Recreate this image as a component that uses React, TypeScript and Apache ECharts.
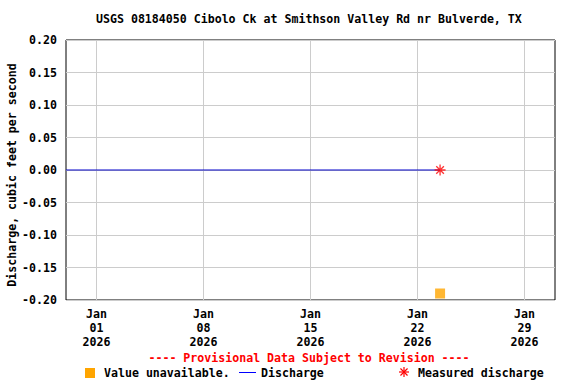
import React, { useEffect, useRef } from "react";
import * as echarts from "echarts";

const title = "USGS 08184050 Cibolo Ck at Smithson Valley Rd nr Bulverde, TX";
const yAxisName = "Discharge, cubic feet per second";
const tickDates = ["2026-01-01", "2026-01-08", "2026-01-15", "2026-01-22", "2026-01-29"];
const xMinDate = "2025-12-30";
const xMaxDate = "2026-01-31";
const yTicks = [-0.2, -0.15, -0.1, -0.05, 0, 0.05, 0.1, 0.15, 0.2];
const dischargeTimes = ["2025-12-30T00:00", "2026-01-23T11:30"];
const dischargeValues = [0, 0];
const measuredTimes = ["2026-01-23T11:30"];
const measuredValues = [0];
const unavailableTimes = ["2026-01-23T11:30"];
const unavailableValues = [-0.19];
const months = ["Jan", "Feb", "Mar", "Apr", "May", "Jun", "Jul", "Aug", "Sep", "Oct", "Nov", "Dec"];

const toTs = (s: string) => {
  const [d, t] = s.split("T");
  const [y, m, dd] = d.split("-").map(Number);
  const [hh, mm] = (t || "00:00").split(":").map(Number);
  return Date.UTC(y, m - 1, dd, hh, mm);
};

const FONT = "'DejaVu Sans Mono', monospace";
const FS = 11.6;
const starPath =
  "path://M-0.6,-5L0.6,-5L0.6,5L-0.6,5Z M-5,-0.6L5,-0.6L5,0.6L-5,0.6Z M-3.9,-3.05L-3.05,-3.9L3.9,3.05L3.05,3.9Z M3.05,-3.9L3.9,-3.05L-3.05,3.9L-3.9,3.05Z";

export default function App() {
  const ref = useRef<HTMLDivElement>(null);
  useEffect(() => {
    if (!ref.current) return;
    const chart = echarts.init(ref.current, undefined, { renderer: "svg" });
    const tickTs = tickDates.map(toTs);
    const red = "#ff0000";
    chart.setOption({
      animation: false,
      backgroundColor: "#fff",
      textStyle: { fontFamily: FONT, fontWeight: "bold" },
      title: {
        text: title,
        left: 96,
        top: 13,
        padding: 0,
        textStyle: { fontFamily: FONT, fontSize: FS, fontWeight: "bold", color: "#000" },
      },
      grid: {
        left: 66,
        right: 21,
        top: 40,
        bottom: 84,
        containLabel: false,
        outerBoundsMode: "none",
        show: true,
        borderColor: "#000",
        borderWidth: 1,
      },
      xAxis: {
        type: "value",
        min: toTs(xMinDate),
        max: toTs(xMaxDate),
        axisLine: { show: false },
        axisTick: { show: false, customValues: tickTs },
        splitLine: { show: true, lineStyle: { color: "#cccccc", width: 1 } },
        axisLabel: {
          customValues: tickTs,
          margin: 7,
          fontFamily: FONT,
          fontSize: FS,
          fontWeight: "bold",
          color: "#000",
          lineHeight: 14,
          formatter: (v: number) => {
            const d = new Date(v);
            return `${months[d.getUTCMonth()]}\n${String(d.getUTCDate()).padStart(2, "0")}\n${d.getUTCFullYear()}`;
          },
        },
      },
      yAxis: {
        type: "value",
        min: -0.2,
        max: 0.2,
        interval: 0.05,
        axisLine: { show: false },
        axisTick: { show: false },
        splitLine: { show: true, lineStyle: { color: "#cccccc", width: 1 } },
        axisLabel: {
          margin: 9,
          fontFamily: FONT,
          fontSize: FS,
          fontWeight: "bold",
          color: "#000",
          formatter: (v: number) => {
            const r = yTicks.find((t) => Math.abs(t - v) < 1e-9);
            return (r ?? v).toFixed(2);
          },
        },
      },
      series: [
        {
          name: "Discharge",
          type: "line",
          data: dischargeTimes.map((t, i) => [toTs(t), dischargeValues[i]]),
          showSymbol: false,
          lineStyle: { color: "#0000c8", width: 1 },
          z: 3,
        },
        {
          name: "Measured discharge",
          type: "scatter",
          data: measuredTimes.map((t, i) => [toTs(t), measuredValues[i]]),
          symbol: starPath,
          symbolSize: 11,
          itemStyle: { color: red },
          z: 4,
        },
        {
          name: "Value unavailable.",
          type: "scatter",
          data: unavailableTimes.map((t, i) => [toTs(t), unavailableValues[i]]),
          symbol: "rect",
          symbolSize: 10,
          itemStyle: { color: "#ffa500" },
          z: 4,
        },
      ],
      graphic: [
        {
          type: "text",
          x: 12,
          y: 175,
          rotation: Math.PI / 2,
          style: {
            text: yAxisName,
            fill: "#000",
            font: `bold ${FS}px ${FONT}`,
            textAlign: "center",
            textVerticalAlign: "middle",
          },
        },
        {
          type: "text",
          x: 309,
          y: 358,
          style: {
            text: "---- Provisional Data Subject to Revision ----",
            fill: red,
            font: `bold ${FS}px ${FONT}`,
            textAlign: "center",
            textVerticalAlign: "middle",
          },
        },
        { type: "rect", shape: { x: 85, y: 368, width: 10, height: 10 }, style: { fill: "#ffa500" } },
        {
          type: "text",
          x: 104,
          y: 373,
          style: { text: "Value unavailable.", fill: "#000", font: `bold ${FS}px ${FONT}`, textVerticalAlign: "middle" },
        },
        { type: "line", shape: { x1: 239, y1: 372.5, x2: 256, y2: 372.5 }, style: { stroke: "#0000ff", lineWidth: 1 } },
        {
          type: "text",
          x: 261,
          y: 373,
          style: { text: "Discharge", fill: "#000", font: `bold ${FS}px ${FONT}`, textVerticalAlign: "middle" },
        },
        {
          type: "text",
          x: 418,
          y: 373,
          style: { text: "Measured discharge", fill: "#000", font: `bold ${FS}px ${FONT}`, textVerticalAlign: "middle" },
        },
        {
          type: "group",
          x: 404,
          y: 372,
          children: [
            { type: "rect", shape: { x: -0.6, y: -5, width: 1.2, height: 10 }, style: { fill: red } },
            { type: "rect", shape: { x: -5, y: -0.6, width: 10, height: 1.2 }, style: { fill: red } },
            { type: "rect", rotation: Math.PI / 4, shape: { x: -5, y: -0.6, width: 10, height: 1.2 }, style: { fill: red } },
            { type: "rect", rotation: -Math.PI / 4, shape: { x: -5, y: -0.6, width: 10, height: 1.2 }, style: { fill: red } },
          ],
        },
      ],
    });
    return () => chart.dispose();
  }, []);
  return <div ref={ref} style={{ position: "fixed", left: 0, top: 0, width: 576, height: 384 }} />;
}
